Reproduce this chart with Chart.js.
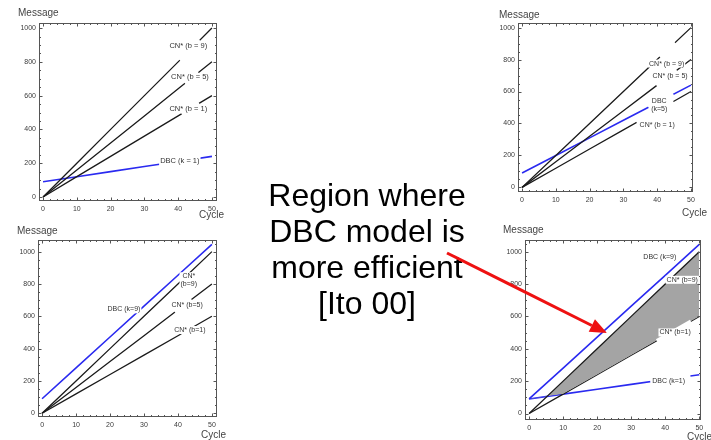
<!DOCTYPE html>
<html>
<head>
<meta charset="utf-8">
<script src="https://cdn.jsdelivr.net/npm/chart.js"></script>
<style>
  html, body { margin: 0; padding: 0; background: #fff; }
  body { width: 711px; height: 440px; position: relative; overflow: hidden; font-family: "Liberation Sans", Arial, sans-serif; }
  canvas { position: absolute; }
  #note { position: absolute; left: 237px; top: 177px; width: 260px; text-align: center; font-size: 32px; line-height: 36px; color: #000; }
  #arrow { position: absolute; left: 0; top: 0; }
</style>
</head>
<body>
<canvas id="c1" width="235" height="225" style="left:0;top:0"></canvas>
<canvas id="c2" width="241" height="225" style="left:470px;top:0"></canvas>
<canvas id="c3" width="235" height="220" style="left:0;top:220px"></canvas>
<canvas id="c4" width="241" height="220" style="left:470px;top:220px"></canvas>
<div id="note">Region where<br>DBC model is<br>more efficient<br>[Ito 00]</div>
<svg id="arrow" width="711" height="440"></svg>
<script>
const cycles = [0, 10, 20, 30, 40, 50];
const cnB9 = [0, 200, 400, 600, 800, 1000];
const cnB5 = [0, 160, 320, 480, 640, 800];
const cnB1 = [0, 120, 240, 360, 480, 600];
const dbcK1 = [90, 120, 150, 180, 210, 240];
const dbcK5 = [90, 200, 310, 420, 530, 640];
const dbcK9 = [90, 281, 472, 663, 854, 1045];
const xTicks = [0, 10, 20, 30, 40, 50];
const yTicks = [0, 200, 400, 600, 800, 1000];

const FONT = '"Liberation Sans", Arial, sans-serif';
const BLACK = '#1a1a1a';
const BLUE = '#2a2af0';
const GRAY = '#a4a4a4';

function pts(values) {
  return cycles.map((c, i) => ({ x: c, y: values[i] }));
}

function valueAt(values, x) {
  for (let i = 1; i < cycles.length; i++) {
    if (x <= cycles[i]) {
      const t = (x - cycles[i - 1]) / (cycles[i] - cycles[i - 1]);
      return values[i - 1] + t * (values[i] - values[i - 1]);
    }
  }
  return values[values.length - 1];
}

// cadre avec graduations vers l'intérieur, étiquettes des courbes, titres
const framePlugin = {
  id: 'frame',
  afterDatasetsDraw(chart, args, opts) {
    const ctx = chart.ctx;
    const a = chart.chartArea;
    const xs = chart.scales.x, ys = chart.scales.y;
    ctx.save();

    // coupures des courbes sous les étiquettes
    (opts.labels || []).forEach(l => {
      if (!l.series) return;
      ctx.strokeStyle = '#fff';
      ctx.lineWidth = 3.5;
      ctx.lineCap = 'butt';
      ctx.beginPath();
      ctx.moveTo(xs.getPixelForValue(l.gap[0]), ys.getPixelForValue(valueAt(l.series, l.gap[0])));
      ctx.lineTo(xs.getPixelForValue(l.gap[1]), ys.getPixelForValue(valueAt(l.series, l.gap[1])));
      ctx.stroke();
    });

    ctx.font = opts.labelSize + 'px ' + FONT;
    ctx.textAlign = 'center';
    ctx.textBaseline = 'middle';
    (opts.labels || []).forEach(l => {
      const lines = l.text.split('\n');
      const lh = opts.labelSize + 1;
      const w = Math.max(...lines.map(s => ctx.measureText(s).width));
      const cx = xs.getPixelForValue(l.x);
      const cy = ys.getPixelForValue(l.y);
      const h = lines.length * lh;
      ctx.fillStyle = '#fff';
      ctx.fillRect(cx - w / 2 - 1, cy - h / 2, w + 2, h);
      ctx.fillStyle = '#333';
      lines.forEach((s, i) => ctx.fillText(s, cx, cy - h / 2 + lh * (i + 0.5)));
    });

    // cadre
    ctx.strokeStyle = '#555';
    ctx.lineWidth = 1;
    const L = Math.round(a.left) + 0.5, R = Math.round(a.right) - 0.5;
    const T = Math.round(a.top) + 0.5, B = Math.round(a.bottom) - 0.5;
    ctx.strokeRect(L, T, R - L, B - T);
    ctx.beginPath();
    for (let v = 0; v <= xs.max; v += 2) {
      const p = Math.round(xs.getPixelForValue(v)) + 0.5;
      const len = v % 10 === 0 ? 3 : 1.5;
      ctx.moveTo(p, B); ctx.lineTo(p, B - len);
      ctx.moveTo(p, T); ctx.lineTo(p, T + len);
    }
    for (let v = 0; v <= ys.max; v += 50) {
      const p = Math.round(ys.getPixelForValue(v)) + 0.5;
      const len = v % 200 === 0 ? 3 : 1.5;
      ctx.moveTo(L, p); ctx.lineTo(L + len, p);
      ctx.moveTo(R, p); ctx.lineTo(R - len, p);
    }
    ctx.stroke();

    // titres des axes
    ctx.font = '10px ' + FONT;
    ctx.fillStyle = '#444';
    ctx.textAlign = 'left';
    (opts.titles || []).forEach(t => ctx.fillText(t.text, t.x, t.y));
    ctx.restore();
  }
};

function line(values, color, extra) {
  return Object.assign({
    data: pts(values),
    borderColor: color,
    borderWidth: color === BLUE ? 1.6 : 1.3,
    pointRadius: 0,
    tension: 0,
    fill: false
  }, extra || {});
}

function makePanel(id, datasets, cfg) {
  return new Chart(document.getElementById(id), {
    type: 'line',
    data: { datasets: datasets },
    options: {
      responsive: false,
      animation: false,
      events: [],
      layout: { padding: cfg.padding },
      scales: {
        x: {
          type: 'linear', min: cfg.x[0], max: cfg.x[1],
          grid: { display: false, drawTicks: false },
          border: { display: false },
          afterBuildTicks: s => { s.ticks = xTicks.map(v => ({ value: v })); },
          afterFit: s => { s.height = 14; },
          ticks: { padding: 4, color: '#3a3a3a', font: { size: 7, family: FONT }, callback: v => String(v) }
        },
        y: {
          type: 'linear', min: cfg.y[0], max: cfg.y[1],
          grid: { display: false, drawTicks: false },
          border: { display: false },
          afterBuildTicks: s => { s.ticks = yTicks.map(v => ({ value: v })); },
          afterFit: s => { s.width = cfg.yWidth; },
          ticks: { padding: 3, color: '#3a3a3a', font: { size: 7, family: FONT }, callback: v => String(v) }
        }
      },
      plugins: {
        legend: { display: false },
        tooltip: { enabled: false },
        frame: { labels: cfg.labels, titles: cfg.titles, labelSize: cfg.labelSize }
      }
    },
    plugins: [framePlugin]
  });
}

makePanel('c1', [line(cnB9, BLACK), line(cnB5, BLACK), line(cnB1, BLACK), line(dbcK1, BLUE)], {
  padding: { left: 0, top: 23, right: 18, bottom: 10 },
  yWidth: 39, x: [-1.2, 51.5], y: [-24, 1030], labelSize: 7.5,
  labels: [
    { text: 'CN* (b = 9)', x: 43, y: 895, series: cnB9, gap: [40.5, 46.4] },
    { text: 'CN* (b = 5)', x: 43.5, y: 708, series: cnB5, gap: [42, 46] },
    { text: 'CN* (b = 1)', x: 43, y: 521, series: cnB1, gap: [41, 46.2] },
    { text: 'DBC (k = 1)', x: 40.5, y: 213, series: dbcK1, gap: [34.5, 46] }
  ],
  titles: [{ text: 'Message', x: 18, y: 13 }, { text: 'Cycle', x: 199, y: 215 }]
});

makePanel('c2', [line(cnB9, BLACK), line(cnB5, BLACK), line(dbcK5, BLUE), line(cnB1, BLACK)], {
  padding: { left: 0, top: 23, right: 18, bottom: 19 },
  yWidth: 48, x: [-1.2, 50.6], y: [-29, 1029], labelSize: 7,
  labels: [
    { text: 'CN* (b = 9)', x: 42.8, y: 775, series: cnB9, gap: [40.8, 45.3] },
    { text: 'CN* (b = 5)', x: 43.8, y: 697, series: cnB5, gap: [39.8, 45.8] },
    { text: 'DBC\n(k=5)', x: 40.6, y: 518, series: dbcK5, gap: [37.4, 44.8] },
    { text: 'CN* (b = 1)', x: 40, y: 390, series: cnB1, gap: [33.9, 44.8] }
  ],
  titles: [{ text: 'Message', x: 29, y: 15 }, { text: 'Cycle', x: 212, y: 213 }]
});

makePanel('c3', [line(dbcK9, BLUE), line(cnB9, BLACK), line(cnB5, BLACK), line(cnB1, BLACK)], {
  padding: { left: 0, top: 20, right: 18, bottom: 9 },
  yWidth: 38, x: [-1.2, 51.5], y: [-23, 1072], labelSize: 7,
  labels: [
    { text: 'DBC (k=9)', x: 24.1, y: 643 },
    { text: 'CN*\n(b=9)', x: 43.2, y: 823 },
    { text: 'CN* (b=5)', x: 42.7, y: 670, series: cnB5, gap: [39.1, 44] },
    { text: 'CN* (b=1)', x: 43.5, y: 515, series: cnB1, gap: [41, 44.5] }
  ],
  titles: [{ text: 'Message', x: 17, y: 11 }, { text: 'Cycle', x: 201, y: 215 }]
});

// borne basse de la zone grise : max(CN* b=1, DBC k=1)
const lowerBound = cnB1.map((v, i) => Math.max(v, dbcK1[i]));

const chart4 = makePanel('c4', [
  line(dbcK9, BLUE),
  line(cnB9, BLACK, { fill: { target: 4, above: GRAY, below: 'rgba(0,0,0,0)' } }),
  line(cnB1, BLACK),
  line(dbcK1, BLUE),
  line(lowerBound, 'rgba(0,0,0,0)', { borderWidth: 0 })
], {
  padding: { left: 0, top: 20, right: 10, bottom: 6 },
  yWidth: 55, x: [-1.2, 50.5], y: [-40, 1072], labelSize: 7,
  labels: [
    { text: 'DBC (k=9)', x: 38.4, y: 966 },
    { text: 'CN* (b=9)', x: 45, y: 826 },
    { text: 'CN* (b=1)', x: 42.9, y: 501, series: cnB1, gap: [37.5, 47.5] },
    { text: 'DBC (k=1)', x: 41, y: 202, series: dbcK1, gap: [35.6, 47.4] }
  ],
  titles: [{ text: 'Message', x: 33, y: 10 }, { text: 'Cycle', x: 217, y: 217 }]
});

// flèche rouge vers la zone grise du 4e graphe
const tipX = chart4.scales.x.getPixelForValue(22.9) + 470;
const tipY = chart4.scales.y.getPixelForValue(497) + 220;
const sx = 447, sy = 253;
const ang = Math.atan2(tipY - sy, tipX - sx);
const hl = 17, hw = 7;
const bx = tipX - hl * Math.cos(ang), by = tipY - hl * Math.sin(ang);
const nx = -Math.sin(ang), ny = Math.cos(ang);
document.getElementById('arrow').innerHTML =
  '<line x1="' + sx + '" y1="' + sy + '" x2="' + bx + '" y2="' + by + '" stroke="#ee1111" stroke-width="3"/>' +
  '<polygon fill="#ee1111" points="' + tipX + ',' + tipY + ' ' + (bx + nx * hw) + ',' + (by + ny * hw) + ' ' + (bx - nx * hw) + ',' + (by - ny * hw) + '"/>';
</script>
</body>
</html>
